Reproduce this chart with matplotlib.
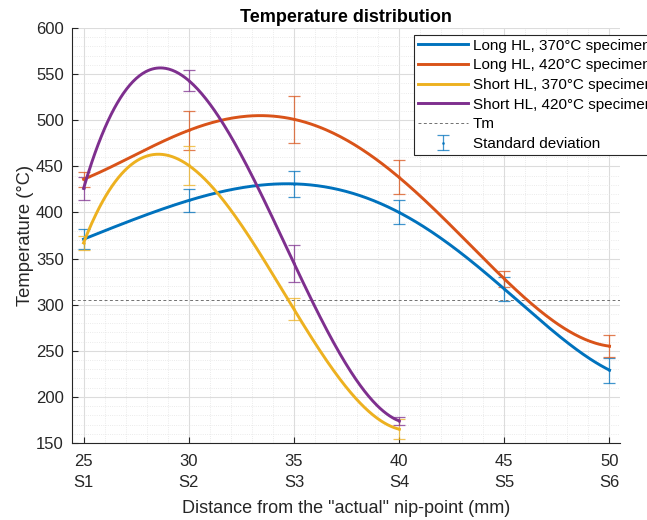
import numpy as np
import matplotlib
matplotlib.use("Agg")
import matplotlib.pyplot as plt
from matplotlib.ticker import MultipleLocator

plt.rcParams['font.family'] = ['Liberation Sans', 'DejaVu Sans']

# ---- data ----
x6 = [25, 30, 35, 40, 45, 50]
x4 = [25, 30, 35, 40]
station_labels = ["S1", "S2", "S3", "S4", "S5", "S6"]

long370_mean = [371, 413, 431, 400, 317, 229]
long370_std = [11, 12.5, 14, 13, 12.5, 13.5]
long420_mean = [436, 489, 501, 438, 328, 255]
long420_std = [8, 21.5, 25.5, 18.5, 9, 12]
short370_mean = [367, 451, 295, 165]
short370_std = [8, 21.5, 12, 10.5]
short420_mean = [426, 543, 345, 174]
short420_std = [12, 11, 20, 4.5]
tm_value = 305

series = [
    ("Long HL, 370°C specimen", x6, long370_mean, long370_std, "#0072BD"),
    ("Long HL, 420°C specimen", x6, long420_mean, long420_std, "#D95319"),
    ("Short HL, 370°C specimen", x4, short370_mean, short370_std, "#EDB120"),
    ("Short HL, 420°C specimen", x4, short420_mean, short420_std, "#7E2F8E"),
]

fig = plt.figure(figsize=(6.47, 5.2), dpi=100)
ax = fig.add_axes([72/647, 1-443/520, (620-72)/647, (443-28)/520])

handles = []
err_handle = None
for i, (lab, xs, m, s, c) in enumerate(series):
    coef = np.polyfit(xs, m, len(xs) - 1)
    xf = np.linspace(xs[0], xs[-1], 300)
    h, = ax.plot(xf, np.polyval(coef, xf), color=c, lw=2.1, label=lab, zorder=3)
    handles.append(h)
    eb = ax.errorbar(xs, m, yerr=s, fmt='.', color=c, ms=2, elinewidth=0.9,
                     capsize=4.5, capthick=0.9, alpha=0.75, zorder=2)
    if i == 0:
        err_handle = eb

tm = ax.axhline(tm_value, color='#707070', lw=0.7, ls=(0, (3, 2.5)), zorder=2, label="Tm")
handles.append(tm)
handles.append(err_handle)

ax.set_xlim(24.45, 50.5)
ax.set_ylim(150, 600)
ax.set_xticks(x6)
ax.set_xticklabels([f"{v}\n{s}" for v, s in zip(x6, station_labels)], linespacing=1.5)
ax.xaxis.set_minor_locator(MultipleLocator(1))
ax.yaxis.set_major_locator(MultipleLocator(50))
ax.yaxis.set_minor_locator(MultipleLocator(10))

ax.grid(which='major', color='#dcdcdc', lw=0.8)
ax.grid(which='minor', color='#e4e4e4', lw=0.6, ls=':')
ax.set_axisbelow(True)

for sp in ['top', 'right']:
    ax.spines[sp].set_visible(False)
for sp in ['left', 'bottom']:
    ax.spines[sp].set_color('#262626')
    ax.spines[sp].set_linewidth(0.8)

ax.tick_params(axis='both', which='major', direction='in', labelsize=12,
               colors='#262626', length=4)
ax.tick_params(axis='x', which='major', pad=8)
ax.tick_params(axis='y', which='major', pad=6)
ax.tick_params(axis='both', which='minor', length=0)

ax.set_title("Temperature distribution", fontsize=13, fontweight='bold', pad=4)
ax.set_ylabel("Temperature (°C)", fontsize=13.2, color='#262626', labelpad=1.5)
ax.set_xlabel('Distance from the "actual" nip-point (mm)', fontsize=13,
              color='#262626', labelpad=7)

leg = ax.legend(handles, [h.get_label() for h in handles[:5]] + ["Standard deviation"],
                loc='upper left', bbox_to_anchor=(414/647, 1-35/520),
                bbox_transform=fig.transFigure, fontsize=11, frameon=True,
                fancybox=False, edgecolor='#262626', framealpha=1,
                handlelength=3.27, handletextpad=0.33, labelspacing=0.37,
                borderpad=0.25, borderaxespad=0)
leg.get_frame().set_linewidth(0.8)

fig.savefig("out.png", dpi=100)
